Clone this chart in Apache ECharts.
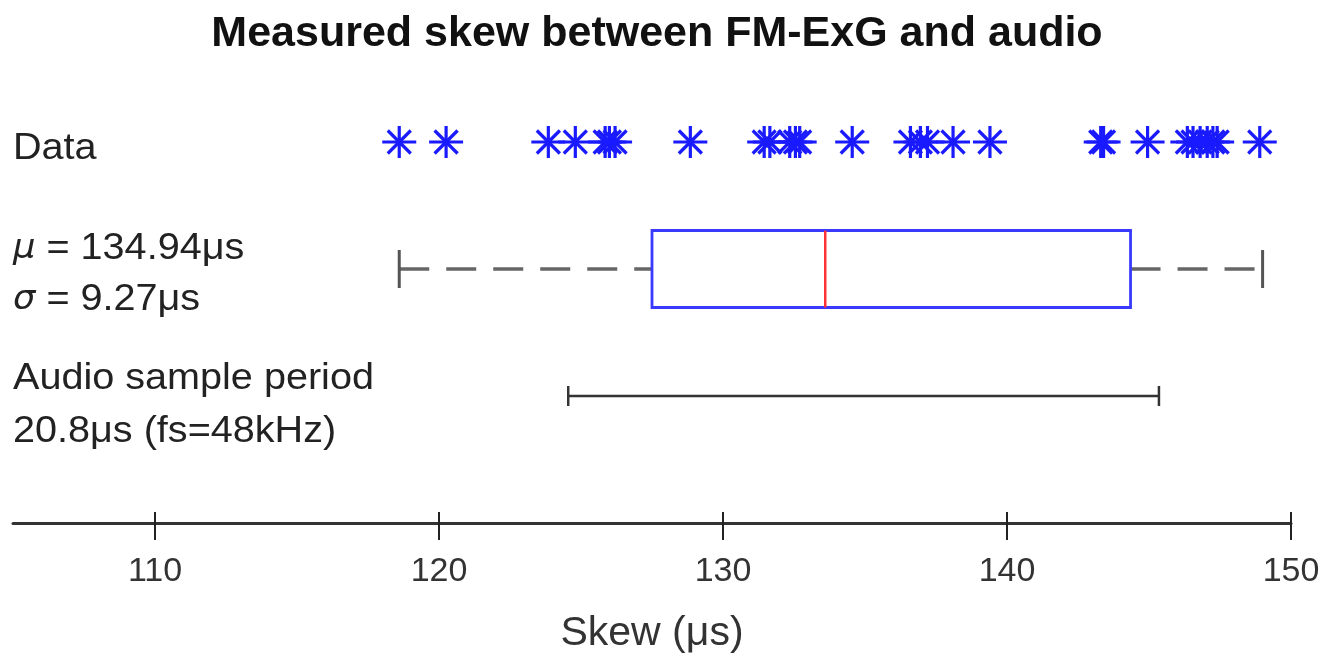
<!DOCTYPE html>
<html>
<head>
<meta charset="utf-8">
<script src="https://cdn.jsdelivr.net/npm/echarts@6/dist/echarts.min.js"></script>
<style>html,body{margin:0;padding:0;background:#fff}#c{width:1339px;height:664px}</style>
</head>
<body>
<div id="c"></div>
<script>
// ---- data ----
const skewData = [118.6, 120.25, 123.85, 124.8, 125.85, 126.0, 126.2, 128.85, 131.45, 131.65,
  132.35, 132.55, 132.7, 134.55, 136.6, 136.95, 137.2, 138.1, 139.4, 143.3, 143.4, 144.95,
  146.35, 146.55, 146.8, 147.05, 147.25, 147.4, 148.9];
const boxStats = [118.6, 127.5, 133.6, 144.35, 149.0]; // min, Q1, median, Q3, max
const audioSpan = [124.55, 145.35];
const xTicks = [110, 120, 130, 140, 150];
const rowLabels = ['Data', 'μ = 134.94μs', 'σ = 9.27μs', 'Audio sample period', '20.8μs (fs=48kHz)'];
const rows = { data: 3, box: 2, audio: 1 };

const FONT = '"Liberation Sans", Arial, Helvetica, sans-serif';
const chart = echarts.init(document.getElementById('c'), null, { renderer: 'canvas' });

function starItem(params, api) {
  const p = api.coord([api.value(0), api.value(1)]);
  const a = 16, d = 11.5;
  const st = { stroke: '#1a1aff', lineWidth: 3.2 };
  const segs = [[-a - 1, 0, a + 1, 0], [0, -a, 0, a], [-d, -d, d, d], [-d, d, d, -d]];
  return {
    type: 'group',
    children: segs.map(s => ({ type: 'line', shape: { x1: p[0] + s[0], y1: p[1] + s[1], x2: p[0] + s[2], y2: p[1] + s[3] }, style: st }))
  };
}

function boxItem(params, api) {
  const y = api.value(5);
  const pMin = api.coord([api.value(0), y]);
  const pQ1 = api.coord([api.value(1), y]);
  const pMed = api.coord([api.value(2), y]);
  const pQ3 = api.coord([api.value(3), y]);
  const pMax = api.coord([api.value(4), y]);
  const h = api.size([0, 0.303])[1];
  const cap = 19;
  const wst = { stroke: '#666', lineWidth: 3.5, lineDash: [30, 17] };
  const cst = { stroke: '#555', lineWidth: 3 };
  return {
    type: 'group',
    children: [
      { type: 'line', shape: { x1: pMin[0], y1: pMin[1], x2: pQ1[0], y2: pQ1[1] }, style: wst },
      { type: 'line', shape: { x1: pQ3[0], y1: pQ3[1], x2: pMax[0], y2: pMax[1] }, style: wst },
      { type: 'line', shape: { x1: pMin[0], y1: pMin[1] - cap, x2: pMin[0], y2: pMin[1] + cap }, style: cst },
      { type: 'line', shape: { x1: pMax[0], y1: pMax[1] - cap, x2: pMax[0], y2: pMax[1] + cap }, style: cst },
      { type: 'rect', shape: { x: pQ1[0], y: pQ1[1] - h, width: pQ3[0] - pQ1[0], height: 2 * h }, style: { fill: '#fff', stroke: '#3a3aff', lineWidth: 2.8 } },
      { type: 'line', shape: { x1: pMed[0], y1: pMed[1] - h, x2: pMed[0], y2: pMed[1] + h }, style: { stroke: '#ff3333', lineWidth: 2.5 } }
    ]
  };
}

function audioItem(params, api) {
  const y = api.value(2);
  const a = api.coord([api.value(0), y]);
  const b = api.coord([api.value(1), y]);
  const cap = 10;
  const st = { stroke: '#333', lineWidth: 2.5 };
  return {
    type: 'group',
    children: [
      { type: 'line', shape: { x1: a[0], y1: a[1], x2: b[0], y2: b[1] }, style: st },
      { type: 'line', shape: { x1: a[0], y1: a[1] - cap, x2: a[0], y2: a[1] + cap }, style: st },
      { type: 'line', shape: { x1: b[0], y1: b[1] - cap, x2: b[0], y2: b[1] + cap }, style: st }
    ]
  };
}

const xCommon = { type: 'value', min: 105, max: 150, interval: 5, position: 'bottom', splitLine: { show: false } };

function label(text, yc, rich) {
  const style = { text: text, font: '37px ' + FONT, fill: '#222', textVerticalAlign: 'middle', textAlign: 'left' };
  if (rich) style.rich = rich;
  return { type: 'text', x: 13, y: yc, scaleX: 1.07, style: style };
}
const italicRich = { i: { fontFamily: '"DejaVu Sans", sans-serif', fontStyle: 'italic', fontSize: 33, fill: '#222' } };

chart.setOption({
  animation: false,
  backgroundColor: '#fff',
  title: {
    text: 'Measured skew between FM-ExG and audio',
    left: 652, top: 8, textAlign: 'center',
    textStyle: { fontFamily: FONT, fontSize: 43, fontWeight: 'bold', color: '#111' }
  },
  grid: { left: 13, right: 48, top: 15, bottom: 141 },
  xAxis: [
    Object.assign({}, xCommon, {
      axisLine: { show: true, lineStyle: { color: '#333', width: 3 } },
      axisTick: { show: true, inside: false, length: 17, lineStyle: { color: '#222', width: 2 },
        customValues: xTicks },
      axisLabel: { show: true, margin: 32, fontFamily: FONT, fontSize: 34, color: '#333',
        customValues: xTicks, formatter: v => String(v) },
      name: 'Skew (μs)', nameLocation: 'middle', nameGap: 90,
      nameTextStyle: { fontFamily: FONT, fontSize: 41, color: '#333' }
    }),
    Object.assign({}, xCommon, {
      axisLine: { show: false },
      axisTick: { show: true, inside: true, length: 11, lineStyle: { color: '#222', width: 2 }, customValues: xTicks },
      axisLabel: { show: false }
    })
  ],
  yAxis: { type: 'value', min: 0, max: 4, show: false },
  graphic: [
    label(rowLabels[0], 149),
    label('{i|μ}' + rowLabels[1].slice(1), 249, italicRich),
    label('{i|σ}' + rowLabels[2].slice(1), 300, italicRich),
    label(rowLabels[3], 379),
    label(rowLabels[4], 432)
  ],
  series: [
    {
      type: 'custom', name: 'Audio', xAxisIndex: 0,
      renderItem: audioItem,
      data: [[audioSpan[0], audioSpan[1], rows.audio]],
      encode: { x: [0, 1], y: 2 }
    },
    {
      type: 'custom', name: 'Box', xAxisIndex: 0,
      renderItem: boxItem,
      data: [boxStats.concat([rows.box])],
      encode: { x: [0, 1, 2, 3, 4], y: 5 }
    },
    {
      type: 'custom', name: 'Data', xAxisIndex: 0,
      renderItem: starItem,
      data: skewData.map(v => [v, rows.data]),
      encode: { x: 0, y: 1 }
    }
  ]
});
</script>
</body>
</html>
